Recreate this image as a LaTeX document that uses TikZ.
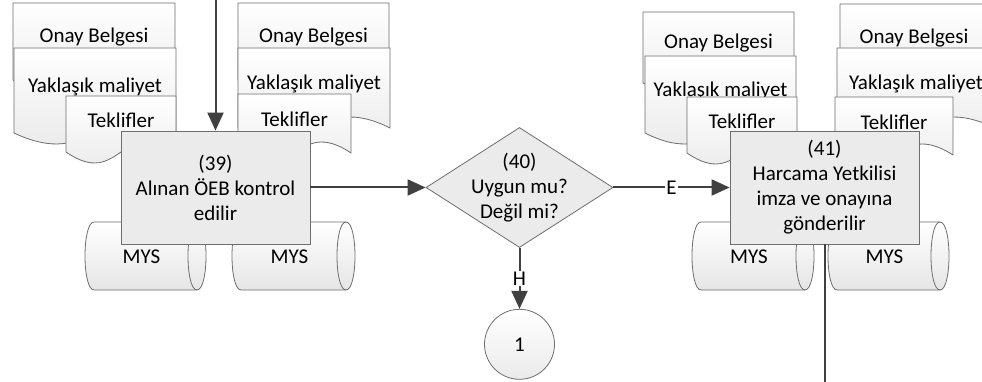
\documentclass[tikz,border=0pt]{standalone}
\usepackage{fontspec}
\setmainfont{Carlito}
\usetikzlibrary{positioning, arrows.meta, shapes.geometric}

\definecolor{cizgi}{HTML}{404040}
\definecolor{kenar}{HTML}{6E6E6E}
\definecolor{dolgu}{HTML}{EBEBEB}

\tikzset{
  yazi/.style={font=\fontsize{21}{25}\selectfont, align=center},
  sekil/.style={draw=kenar, line width=0.8pt, top color=white, bottom color=black!10},
  islem/.style={rectangle, draw=kenar, line width=0.8pt, fill=dolgu, minimum width=189pt, minimum height=113pt, inner sep=2pt, yazi},
  karar/.style={diamond, draw=kenar, line width=0.8pt, fill=dolgu, minimum width=187pt, minimum height=120pt, inner sep=0pt},
  baglanti/.style={circle, draw=kenar, line width=0.8pt, top color=white, bottom color=black!8, minimum size=70pt, inner sep=0pt, yazi},
  ok/.style={draw=cizgi, line width=2pt, -{Triangle[length=18pt, width=16pt]}},
  hat/.style={draw=cizgi, line width=2pt},
  etiket/.style={fill=white, inner sep=1pt, yazi}
}

% belge: isim, sol x, sag x, ust y, alt y, metin
\newcommand{\belge}[6]{%
  \path[sekil] (#2,#4) -- (#3,#4) -- (#3,#5)
    .. controls ({(#2+#3)/2},{#5-38}) and ({(#2+#3)/2},{#5+38}) .. (#2,#5) -- cycle;
  \node[yazi] (#1) at ({(#2+#3)/2},{(#4+#5)/2-4}) {#6};
}
% mys: isim, sol x, sag x
\newcommand{\mys}[3]{%
  \path[sekil] (#2,222) -- (#3,222) .. controls ({#3+12},222) and ({#3+12},290) .. (#3,290)
    -- (#2,290) .. controls ({#2-12},290) and ({#2-12},222) .. (#2,222) -- cycle;
  \draw[kenar, line width=0.8pt] (#3,222) .. controls ({#3-12},222) and ({#3-12},290) .. (#3,290);
  \node[yazi] (#1) at ({(#2+#3)/2-4},257) {MYS};
}

\begin{document}
\begin{tikzpicture}[x=1pt, y=-1pt]
  \path[use as bounding box, fill=white] (0,0) rectangle (982,382);

  % belgeler %
  \belge{onay1}{13}{175}{3}{80}{Onay Belgesi}
  \belge{maliyet1}{14}{176}{48}{133}{Yaklaşık maliyet}
  \belge{teklif1}{66}{176}{96}{152}{Teklifler}
  \belge{onay2}{238}{389}{3}{80}{Onay Belgesi}
  \belge{maliyet2}{238}{390}{48}{128}{Yaklaşık maliyet}
  \belge{teklif2}{238}{351}{94}{153}{Teklifler}
  \belge{onay3}{643}{794}{12}{83}{Onay Belgesi}
  \belge{maliyet3}{645}{796}{56}{133}{Yaklaşık maliyet}
  \belge{teklif3}{687}{797}{97}{153}{Teklifler}
  \belge{onay4}{840}{988}{4}{80}{Onay Belgesi}
  \belge{maliyet4}{837}{995}{48}{128}{Yaklaşık maliyet}
  \belge{teklif4}{835}{953}{97}{155}{Teklifler}

  % veri tabani %
  \mys{mys1}{94}{197}
  \mys{mys2}{241}{346}
  \mys{mys3}{701}{805}
  \mys{mys4}{837}{940}

  % nodes %
  \node[islem] (k39) at (215.5,187.5) {(39)\\Alınan ÖEB kontrol\\edilir};
  \node[karar] (d40) at (519.5,187.5) {};
  \node[yazi] (d40m) at (d40) {(40)\\Uygun mu?\\Değil mi?};
  \node[islem] (k41) at (824.5,187.5) {(41)\\Harcama Yetkilisi\\imza ve onayına\\gönderilir};
  \node[baglanti, below=61pt of d40] (c1) {1};
  \coordinate (giris) at (215.5,0);
  \coordinate (alt) at (0,382);
  \coordinate (cikis) at (k41.south |- alt);

  % edges %
  \draw[ok] (giris) -- (k39.north);
  \draw[ok] (k39.east) -- (d40.west);
  \draw[ok] (d40.east) -- node[etiket] {E} (k41.west);
  \draw[ok] (d40.south) -- node[etiket] {H} (c1.north);
  \draw[hat] (k41.south) -- (cikis);
\end{tikzpicture}
\end{document}
